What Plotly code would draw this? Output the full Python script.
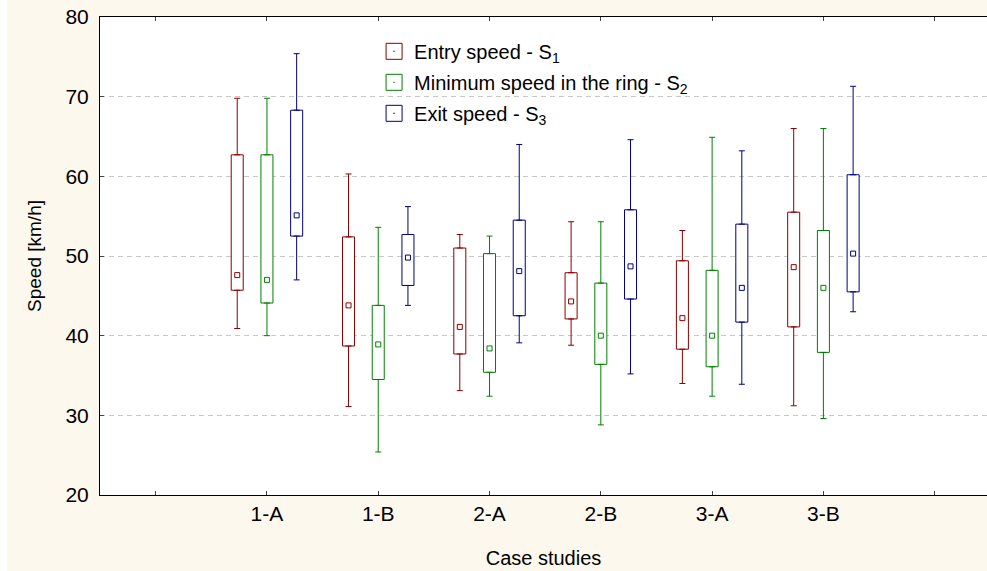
import plotly.graph_objects as go

categories = ['1-A', '1-B', '2-A', '2-B', '3-A', '3-B']
series_names = ['Entry speed - S<sub>1</sub>',
                'Minimum speed in the ring - S<sub>2</sub>',
                'Exit speed - S<sub>3</sub>']
colors = ['#8b0000', '#008000', '#000080']

# Entry speed S1
s1_min = [40.9, 31.1, 33.1, 38.8, 34.0, 31.2]
s1_q1 = [45.7, 38.7, 37.7, 42.1, 38.3, 41.1]
s1_med = [47.6, 43.8, 41.1, 44.3, 42.2, 48.6]
s1_q3 = [62.7, 52.4, 51.0, 47.9, 49.4, 55.5]
s1_max = [69.8, 60.3, 52.7, 54.3, 53.2, 66.0]

# Minimum speed in the ring S2
s2_min = [40.0, 25.4, 32.4, 28.8, 32.4, 29.6]
s2_q1 = [44.1, 34.5, 35.4, 36.4, 36.1, 37.9]
s2_med = [47.0, 38.9, 38.4, 40.0, 40.0, 46.0]
s2_q3 = [62.7, 43.8, 50.3, 46.6, 48.2, 53.2]
s2_max = [69.8, 53.6, 52.5, 54.3, 64.9, 66.0]

# Exit speed S3
s3_min = [47.0, 43.8, 39.1, 35.2, 33.9, 43.0]
s3_q1 = [52.5, 46.3, 42.5, 44.6, 41.7, 45.5]
s3_med = [55.1, 49.8, 48.1, 48.7, 46.0, 50.3]
s3_q3 = [68.3, 52.7, 54.5, 55.8, 54.0, 60.2]
s3_max = [75.4, 56.2, 64.0, 64.6, 63.2, 71.3]

series = [
    (s1_min, s1_q1, s1_med, s1_q3, s1_max),
    (s2_min, s2_q1, s2_med, s2_q3, s2_max),
    (s3_min, s3_q1, s3_med, s3_q3, s3_max),
]
offsets = [-0.267, 0.0, 0.267]
box_w = 0.108
FONT = 'Liberation Sans, Arial, sans-serif'

fig = go.Figure()
for si, (mn, q1, med, q3, mx) in enumerate(series):
    c = colors[si]
    xs = [i + 1 + offsets[si] for i in range(len(categories))]
    # upper whiskers
    fig.add_trace(go.Scatter(
        x=xs, y=q3, mode='markers', showlegend=False, hoverinfo='skip',
        marker=dict(size=1, color='rgba(0,0,0,0)'),
        error_y=dict(type='data', symmetric=False,
                     array=[b - a for a, b in zip(q3, mx)],
                     arrayminus=[0] * len(q3), color=c, thickness=1, width=3)))
    # lower whiskers
    fig.add_trace(go.Scatter(
        x=xs, y=q1, mode='markers', showlegend=False, hoverinfo='skip',
        marker=dict(size=1, color='rgba(0,0,0,0)'),
        error_y=dict(type='data', symmetric=False,
                     array=[0] * len(q1),
                     arrayminus=[a - b for a, b in zip(q1, mn)],
                     color=c, thickness=1, width=3)))
    # boxes
    fig.add_trace(go.Bar(
        x=xs, y=[b - a for a, b in zip(q1, q3)], base=q1, width=box_w,
        marker=dict(color='white', line=dict(color=c, width=1)),
        showlegend=False))
    # medians
    fig.add_trace(go.Scatter(
        x=xs, y=med, mode='markers', showlegend=False,
        marker=dict(symbol='square-open', size=5, color=c, line=dict(width=1))))
    # legend entry
    fig.add_trace(go.Scatter(
        x=[None], y=[None], mode='markers', name=series_names[si],
        legendgroup=str(si),
        marker=dict(symbol='square-open-dot', size=17, color=c, line=dict(width=1))))

fig.update_layout(
    width=987, height=571,
    margin=dict(l=100, r=0, t=17, b=76),
    paper_bgcolor='#fdf8ee', plot_bgcolor='white',
    barmode='overlay',
    font=dict(family=FONT, size=20, color='black'),
    legend=dict(x=0.309, y=0.969, xanchor='left', yanchor='top',
                bgcolor='rgba(0,0,0,0)', borderwidth=0,
                traceorder='grouped', tracegroupgap=2,
                font=dict(family=FONT, size=20, color='black')),
    xaxis=dict(range=[-0.5, 7.47], tickmode='array',
               tickvals=list(range(1, 7)), ticktext=categories,
               tickfont=dict(size=21),
               minor=dict(tickmode='array', tickvals=[0, 7], ticks='inside',
                          ticklen=4, tickcolor='#444', showgrid=False),
               showline=True, linecolor='black', linewidth=1, mirror='ticks',
               ticks='inside', ticklen=4, tickcolor='#444', showgrid=False,
               zeroline=False,
               title=dict(text='Case studies', font=dict(size=20), standoff=26)),
    yaxis=dict(range=[20, 80], tickmode='array', tickvals=[20, 30, 40, 50, 60, 70, 80],
               tickfont=dict(size=21), ticklabelstandoff=6,
               showline=True, linecolor='black', linewidth=1, mirror=False,
               ticks='inside', ticklen=4, tickcolor='#444',
               showgrid=True, gridcolor='#c8c8c8', griddash='5px,4px', gridwidth=1,
               zeroline=False,
               title=dict(text='Speed [km/h]', font=dict(size=19), standoff=18)),
    shapes=[dict(type='rect', xref='paper', yref='paper',
                 x0=-100 / 887, x1=-93 / 887, y0=-76 / 478, y1=1 + 17 / 478,
                 fillcolor='white', line=dict(width=0), layer='below')],
)

fig.write_html('out.html')
